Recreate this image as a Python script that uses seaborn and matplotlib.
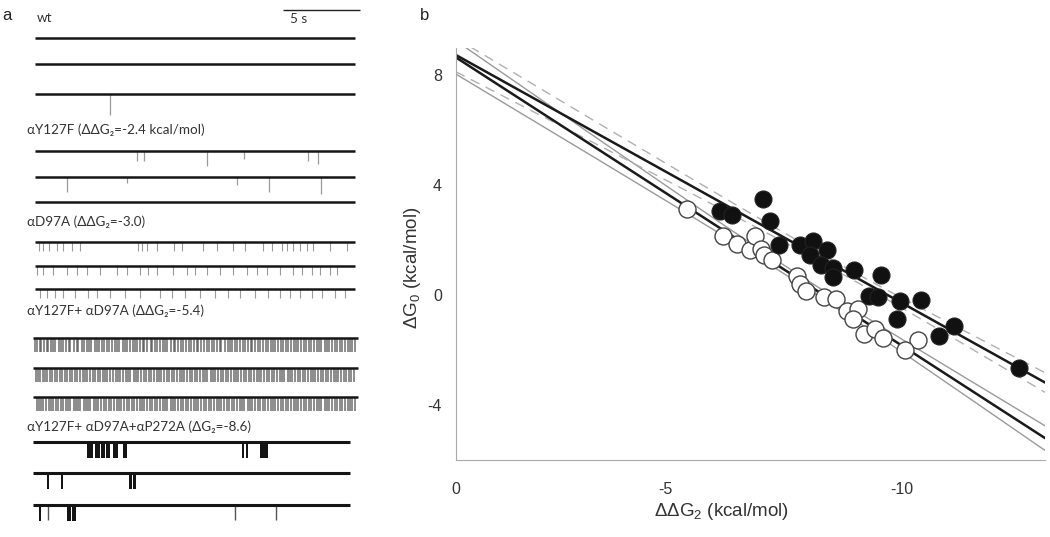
import numpy as np
import pandas as pd
import matplotlib
matplotlib.use("Agg")
import matplotlib.pyplot as plt
import seaborn as sns

# ---------------- panel b: values ----------------
filled_x = [-6.16, -6.42, -7.08, -7.22, -7.41, -7.85, -8.13, -8.43, -8.07, -8.30, -8.56,
            -8.55, -8.99, -9.56, -9.32, -9.50, -9.97, -10.42, -9.91, -11.11, -10.79, -12.49]
filled_y = [3.05, 2.93, 3.52, 2.71, 1.81, 1.84, 1.96, 1.65, 1.47, 1.09, 1.00,
            0.65, 0.90, 0.74, -0.04, -0.07, -0.21, -0.17, -0.87, -1.11, -1.49, -2.66]
open_x = [-5.47, -6.22, -6.51, -6.79, -6.90, -7.02, -7.09, -7.27, -7.79, -7.86, -7.99,
          -8.36, -8.62, -8.85, -9.08, -8.97, -9.20, -9.45, -9.61, -10.36, -10.08]
open_y = [3.14, 2.14, 1.86, 1.65, 2.14, 1.69, 1.46, 1.29, 0.70, 0.42, 0.16,
          -0.05, -0.14, -0.59, -0.49, -0.88, -1.41, -1.24, -1.57, -1.64, -2.01]

# ---------------- panel a: single-channel traces (event times in s) ----------------
trace_labels = ["wt",
                "αY127F (ΔΔG₂=-2.4 kcal/mol)",
                "αD97A (ΔΔG₂=-3.0)",
                "αY127F+ αD97A (ΔΔG₂=-5.4)",
                "αY127F+ αD97A+αP272A (ΔG₂=-8.6)"]

wt_spikes = [[], [], [4.9]]
wt_depths = [[], [], [21]]

y127f_spikes = [[6.6, 7.1, 11.2, 13.6, 17.7, 18.4], [2.1, 6.0, 13.1, 15.2, 18.6], []]
y127f_depths = [[10, 10, 15, 8, 10, 13], [15, 6, 8, 15, 17], []]

d97a_spikes = [
    [0.28, 0.54, 0.93, 1.41, 1.84, 2.38, 2.92, 6.71, 6.93, 7.25, 7.9, 9.0, 9.52, 10.93,
     11.8, 12.88, 13.64, 14.83, 15.37, 16.02, 16.34, 16.77, 17.21, 17.64, 18.07, 19.16, 20.24],
    [0.11, 0.54, 1.19, 2.06, 2.71, 3.36, 4.22, 5.31, 5.95, 6.82, 7.36, 7.9, 8.98, 9.85,
     10.39, 11.15, 12.01, 12.88, 13.75, 14.39, 15.04, 15.91, 16.77, 17.32, 17.97, 18.51, 19.16, 19.59],
    [0.32, 0.78, 1.30, 1.82, 2.60, 3.44, 4.03, 4.87, 5.84, 6.82, 8.12, 8.90, 9.74, 10.71,
     11.69, 12.53, 13.31, 14.29, 15.13, 15.91, 16.56, 17.21, 17.99, 18.64, 19.48, 20.13],
]

dense_spikes = [
    [0.0, 0.15, 0.3, 0.4, 0.6, 0.75, 0.85, 1.05, 1.2, 1.3, 1.55, 1.7, 1.85, 2.0, 2.2, 2.3, 2.55,
     2.7, 2.8, 3.05, 3.2, 3.35, 3.5, 3.65, 3.9, 4.0, 4.15, 4.35, 4.5, 4.7, 4.8, 5.0, 5.2, 5.3,
     5.45, 5.7, 5.85, 5.95, 6.2, 6.35, 6.5, 6.6, 6.85, 7.0, 7.1, 7.3, 7.5, 7.6, 7.8, 7.95, 8.1,
     8.3, 8.45, 8.6, 8.8, 9.0, 9.1, 9.3, 9.45, 9.6, 9.8, 10.0, 10.1, 10.3, 10.5, 10.6, 10.8,
     11.0, 11.15, 11.3, 11.5, 11.6, 11.8, 12.0, 12.1, 12.35, 12.5, 12.65, 12.8, 13.0, 13.1,
     13.3, 13.5, 13.65, 13.8, 14.0, 14.1, 14.3, 14.45, 14.6, 14.8, 15.0, 15.1, 15.3, 15.45,
     15.6, 15.8, 15.95, 16.1, 16.3, 16.45, 16.6, 16.8, 16.95, 17.1, 17.3, 17.45, 17.6, 17.8,
     17.95, 18.1, 18.3, 18.45, 18.6, 18.8, 18.95, 19.1, 19.3, 19.5, 19.6, 19.8, 19.95, 20.1,
     20.3, 20.45, 20.6, 20.8],
    [0.05, 0.2, 0.35, 0.5, 0.65, 0.8, 1.0, 1.1, 1.3, 1.45, 1.6, 1.75, 1.95, 2.1, 2.25, 2.4,
     2.6, 2.75, 2.9, 3.1, 3.25, 3.4, 3.55, 3.75, 3.9, 4.1, 4.25, 4.4, 4.55, 4.7, 4.9, 5.05,
     5.25, 5.4, 5.55, 5.7, 5.9, 6.05, 6.2, 6.4, 6.55, 6.7, 6.9, 7.05, 7.2, 7.4, 7.55, 7.7,
     7.9, 8.05, 8.2, 8.4, 8.55, 8.7, 8.9, 9.05, 9.2, 9.4, 9.55, 9.7, 9.9, 10.05, 10.2, 10.4,
     10.55, 10.7, 10.9, 11.05, 11.2, 11.4, 11.55, 11.7, 11.9, 12.05, 12.2, 12.4, 12.55, 12.7,
     12.9, 13.05, 13.2, 13.4, 13.55, 13.7, 13.9, 14.05, 14.2, 14.4, 14.55, 14.7, 14.9, 15.05,
     15.2, 15.4, 15.55, 15.7, 15.9, 16.05, 16.2, 16.4, 16.55, 16.7, 16.9, 17.05, 17.2, 17.4,
     17.55, 17.7, 17.9, 18.05, 18.2, 18.4, 18.55, 18.7, 18.9, 19.05, 19.2, 19.4, 19.55,
     19.7, 19.9, 20.05, 20.2, 20.4, 20.55, 20.7],
    [0.1, 0.25, 0.4, 0.55, 0.7, 0.9, 1.05, 1.2, 1.35, 1.5, 1.7, 1.85, 2.0, 2.15, 2.3, 2.5,
     2.65, 2.8, 2.95, 3.15, 3.3, 3.45, 3.6, 3.8, 3.95, 4.1, 4.3, 4.45, 4.6, 4.8, 4.95, 5.1,
     5.3, 5.45, 5.6, 5.8, 5.95, 6.1, 6.3, 6.45, 6.6, 6.8, 6.95, 7.1, 7.3, 7.45, 7.6, 7.8,
     7.95, 8.1, 8.3, 8.45, 8.6, 8.8, 8.95, 9.1, 9.3, 9.45, 9.6, 9.8, 9.95, 10.1, 10.3, 10.45,
     10.6, 10.8, 10.95, 11.1, 11.3, 11.45, 11.6, 11.8, 11.95, 12.1, 12.3, 12.45, 12.6, 12.8,
     12.95, 13.1, 13.3, 13.45, 13.6, 13.8, 13.95, 14.1, 14.3, 14.45, 14.6, 14.8, 14.95, 15.1,
     15.3, 15.45, 15.6, 15.8, 15.95, 16.1, 16.3, 16.45, 16.6, 16.8, 16.95, 17.1, 17.3, 17.45,
     17.6, 17.8, 17.95, 18.1, 18.3, 18.45, 18.6, 18.8, 18.95, 19.1, 19.3, 19.45, 19.6, 19.8,
     19.95, 20.1, 20.3, 20.45, 20.6, 20.8],
]

# triple mutant: openings as (start, end) in s
triple_bursts = [
    [(3.40, 3.77), (3.88, 4.19), (4.29, 4.55), (4.64, 4.87), (5.05, 5.41), (5.69, 5.99),
     (13.42, 13.60), (13.67, 13.85), (14.61, 15.15)],
    [(0.78, 0.90), (1.69, 1.82), (6.10, 6.30), (6.36, 6.56)],
    [(0.26, 0.40), (2.08, 2.33), (2.42, 2.66)],
]
triple_spikes = [[], [], [0.85, 12.99, 15.65]]

# ---------------- layout (rows in pixels from the top) ----------------
px_per_s = 15.4
x0_px = 35
rows = [[38, 64, 94], [150.7, 176.7, 201.7], [241.7, 266, 289.3],
        [338.3, 367.5, 396.5], [441.7, 472.7, 505]]
label_rows = [18, 130, 221.7, 310.7, 426.7]
spans = [(0, 20.8), (0, 20.8), (0, 20.8), (-0.13, 21.0), (-0.15, 20.45)]

sns.set_style("white")
plt.rcParams['font.family'] = ['Liberation Sans', 'DejaVu Sans']
plt.rcParams['mathtext.fontset'] = 'custom'
plt.rcParams['mathtext.rm'] = 'Liberation Sans'
plt.rcParams['mathtext.it'] = 'Liberation Sans:italic'

fig = plt.figure(figsize=(10.5, 5.37), dpi=100)

# ---- panel a
ax_a = fig.add_axes([0, 0, 380 / 1050, 1])
ax_a.set_xlim(-x0_px / px_per_s, (380 - x0_px) / px_per_s)
ax_a.set_ylim(537, 0)
ax_a.axis('off')

lab_font = ['Lato', 'DejaVu Sans']
for g, lab in enumerate(trace_labels):
    lx = 0.1 if g == 0 else -0.55
    ax_a.text(lx, label_rows[g], lab, fontsize=9.7, color='#333333', va='center',
              ha='left', family=lab_font)

for g in range(5):
    s0, s1 = spans[g]
    for k, base in enumerate(rows[g]):
        lw = 2.2 if g == 4 else 1.8
        ax_a.hlines(base, s0, s1, color='#151515', lw=lw, zorder=3)
        if g == 0:
            ax_a.vlines(wt_spikes[k], base, np.array(base) + np.array(wt_depths[k]),
                        color='#9a9a9a', lw=0.9)
        elif g == 1:
            ax_a.vlines(y127f_spikes[k], base, np.array(base) + np.array(y127f_depths[k]),
                        color='#9a9a9a', lw=0.9)
        elif g == 2:
            ax_a.vlines(d97a_spikes[k], base, base + 9, color='#9a9a9a', lw=0.8)
        elif g == 3:
            ax_a.vlines(dense_spikes[k], base, base + 14, color='#555555', lw=1.1, alpha=0.85)
        else:
            starts = [b[0] for b in triple_bursts[k]]
            widths = [b[1] - b[0] for b in triple_bursts[k]]
            ax_a.bar(starts, [16] * len(starts), width=widths, bottom=base, align='edge',
                     color='#151515', lw=0)
            ax_a.vlines(triple_spikes[k], base, base + 15, color='#555555', lw=1.0)

# scale bar and panel letter
ax_a.hlines(9.5, 16.1, 21.1, color='#222222', lw=1.0)
ax_a.text(16.55, 19, "5 s", fontsize=9.7, color='#333333', va='center', family=lab_font)
ax_a.text(-2.15, 15, "a", fontsize=12, color='#222222', va='center')

# ---- panel b
ax_b = fig.add_axes([456 / 1050, 1 - 460 / 537, (1045 - 456) / 1050, (460 - 48) / 537])
xlo, xhi = -0.57, -13.04
grid = np.linspace(xlo, xhi, 200)

# joint fit: common intercept, one slope per data set
fx = np.asarray(filled_x)
ox = np.asarray(open_x)
X = np.zeros((len(fx) + len(ox), 3))
X[:, 0] = 1
X[:len(fx), 1] = fx
X[len(fx):, 2] = ox
Y = np.concatenate([filled_y, open_y])
beta, *_ = np.linalg.lstsq(X, Y, rcond=None)
s2 = np.sum((Y - X @ beta) ** 2) / (len(Y) - 3)
cov = s2 * np.linalg.inv(X.T @ X)


def line_and_band(col, k):
    G = np.zeros((len(grid), 3))
    G[:, 0] = 1
    G[:, col] = grid
    fit = G @ beta
    half = k * np.sqrt(np.einsum('ij,jk,ik->i', G, cov, G))
    return fit, fit - half, fit + half


f_fit, f_lo, f_hi = line_and_band(1, 2.0)
o_fit, o_lo, o_hi = line_and_band(2, 2.0)

for band in (o_lo, o_hi):
    sns.lineplot(x=grid, y=band, ax=ax_b, color='#9a9a9a', lw=1.0, estimator=None, sort=False)
for band in (f_lo, f_hi):
    sns.lineplot(x=grid, y=band, ax=ax_b, color='#b0b0b0', lw=1.0, estimator=None,
                 sort=False).lines[-1].set_dashes([7, 5])
sns.lineplot(x=grid, y=o_fit, ax=ax_b, color='#1a1a1a', lw=1.8, estimator=None, sort=False)
sns.lineplot(x=grid, y=f_fit, ax=ax_b, color='#1a1a1a', lw=1.8, estimator=None, sort=False)

sns.scatterplot(x=open_x, y=open_y, ax=ax_b, s=150, color='white', edgecolor='#444444',
                linewidth=1.0, zorder=5)
sns.scatterplot(x=filled_x, y=filled_y, ax=ax_b, s=150, color='#111111', edgecolor='#222222',
                linewidth=0.8, zorder=6)

ax_b.set_xlim(xlo, xhi)
ax_b.set_ylim(-6, 9)
ax_b.set_xticks([xlo, -2.5, -5, -7.5, -10, -12.5], ['0', '', '-5', '', '-10', ''])
ax_b.set_yticks([-6, -4, -2, 0, 2, 4, 6, 8], ['', '-4', '', '0', '', '4', '', '8'])
for side in ('top', 'right'):
    ax_b.spines[side].set_visible(False)
for side in ('left', 'bottom'):
    ax_b.spines[side].set_color('#aaaaaa')
    ax_b.spines[side].set_linewidth(0.8)
ax_b.tick_params(axis='both', direction='out', length=4, width=0.8, color='#aaaaaa',
                 labelsize=11.5, labelcolor='#333333')
ax_b.tick_params(axis='x', pad=12)
ax_b.tick_params(axis='y', pad=6)
ax_b.set_xlabel(r'$\mathregular{\Delta\Delta G_2}$ (kcal/mol)', fontsize=13.5, color='#333333')
ax_b.set_ylabel(r'$\mathregular{\Delta G_0}$ (kcal/mol)', fontsize=13.5, color='#333333')
ax_b.xaxis.set_label_coords(0.45, -0.10)
ax_b.yaxis.set_label_coords(-0.056, 0.466)
fig.text(420 / 1050, 1 - 15 / 537, "b", fontsize=12, color='#222222', va='center')

fig.savefig("out.png", dpi=100, facecolor='white')
